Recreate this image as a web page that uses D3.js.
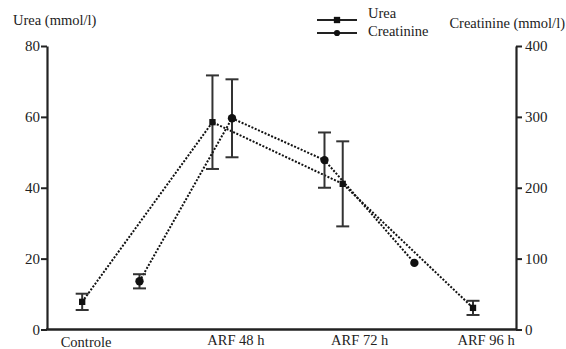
<meta charset="utf-8">
<html>
<script src="https://cdnjs.cloudflare.com/ajax/libs/d3/7.8.5/d3.min.js"></script>
<style>
body { margin: 0; background: #fff; }
</style>
<body>
<svg id="chart" width="566" height="349"></svg>
<script type="text/javascript">

// category labels and where they sit along the x axis (in slot units)
var categories = ["Controle", "ARF 48 h", "ARF 72 h", "ARF 96 h"];
var categoryPos = [0.03, 1.18, 2.13, 3.10];

// urea (left axis)
var ureaX = [0, 1, 2, 3];
var ureaMean = [7.8, 58.5, 41.1, 6.1];
var ureaSD = [2.3, 13.2, 12.0, 2.0];

// creatinine (right axis) - points are offset in the original figure
var creatX = [0.44, 1.15, 1.86, 2.55];
var creatMean = [68, 298, 239, 94];
var creatSD = [10, 55, 39, 0];

var ureaTicks = [0, 20, 40, 60, 80];
var creatTicks = [0, 100, 200, 300, 400];

var FONT = "'Liberation Serif', 'Times New Roman', serif";

var svg = d3.select("#chart");

var x = d3.scaleLinear().domain([-0.27, 3.33]).range([47, 516]);
var yL = d3.scaleLinear().domain([0, 80]).range([329.5, 46]);
var yR = d3.scaleLinear().domain([0, 400]).range([329.5, 46]);

function txt(sel, size) {
	return sel.style("font-family", FONT).style("font-size", size + "px").attr("fill", "#222");
}

// axes
var leftAxis = d3.axisLeft(yL).tickValues(ureaTicks).tickSize(6).tickPadding(1).tickSizeOuter(0);
var rightAxis = d3.axisRight(yR).tickValues(creatTicks).tickSize(6).tickPadding(3).tickSizeOuter(0);

var gl = svg.append("g").attr("transform", "translate(47,0)").call(leftAxis);
var gr = svg.append("g").attr("transform", "translate(516,0)").call(rightAxis);
[gl, gr].forEach(function(g) {
	g.select(".domain").attr("stroke", "#222").attr("stroke-width", 2.2);
	g.selectAll(".tick line").attr("stroke", "#222").attr("stroke-width", 2);
	txt(g.selectAll(".tick text"), 15);
});

// bottom line
svg.append("line")
	.attr("x1", x.range()[0] - 1).attr("x2", x.range()[1] + 1)
	.attr("y1", yL(0)).attr("y2", yL(0))
	.attr("stroke", "#222").attr("stroke-width", 2.4);

txt(svg.selectAll("text.cat")
	.data(categories)
	.enter()
	.append("text")
	.attr("class", "cat")
	.attr("x", function(d, i) { return x(categoryPos[i]); })
	.attr("y", function(d, i) { return i === 0 ? 347 : 344.5; })
	.attr("text-anchor", "middle"), 14.5)
	.text(function(d) { return d; });

// axis titles
txt(svg.append("text").attr("x", 13).attr("y", 24.5), 14.5).text("Urea (mmol/l)");
txt(svg.append("text").attr("x", 565).attr("y", 28).attr("text-anchor", "end"), 14.5).text("Creatinine (mmol/l)");

// series
var urea = ureaX.map(function(v, i) { return {x: v, m: ureaMean[i], sd: ureaSD[i]}; });
var creat = creatX.map(function(v, i) { return {x: v, m: creatMean[i], sd: creatSD[i]}; });

function drawSeries(data, y, marker) {
	var line = d3.line()
		.x(function(d) { return x(d.x); })
		.y(function(d) { return y(d.m); });

	svg.append("path")
		.datum(data)
		.attr("d", line)
		.attr("fill", "none")
		.attr("stroke", "#111")
		.attr("stroke-width", 2)
		.attr("stroke-dasharray", "2,1.6");

	var eb = svg.append("g").selectAll("g")
		.data(data.filter(function(d) { return d.sd > 0; }))
		.enter().append("g")
		.attr("stroke", "#333")
		.attr("stroke-width", 2);
	eb.append("line")
		.attr("x1", function(d) { return x(d.x); }).attr("x2", function(d) { return x(d.x); })
		.attr("y1", function(d) { return y(d.m + d.sd); }).attr("y2", function(d) { return y(d.m - d.sd); });
	eb.append("line")
		.attr("x1", function(d) { return x(d.x) - 6.5; }).attr("x2", function(d) { return x(d.x) + 6.5; })
		.attr("y1", function(d) { return y(d.m + d.sd); }).attr("y2", function(d) { return y(d.m + d.sd); });
	eb.append("line")
		.attr("x1", function(d) { return x(d.x) - 6.5; }).attr("x2", function(d) { return x(d.x) + 6.5; })
		.attr("y1", function(d) { return y(d.m - d.sd); }).attr("y2", function(d) { return y(d.m - d.sd); });

	svg.append("g").selectAll("path")
		.data(data)
		.enter().append("path")
		.attr("d", d3.symbol().type(marker).size(marker === d3.symbolSquare ? 40 : 55))
		.attr("transform", function(d) { return "translate(" + x(d.x) + "," + y(d.m) + ")"; })
		.attr("fill", "#111");
}

drawSeries(urea, yL, d3.symbolSquare);
drawSeries(creat, yR, d3.symbolCircle);

// legend
var legend = [
	{name: "Urea", marker: d3.symbolSquare, y: 20, ty: 18},
	{name: "Creatinine", marker: d3.symbolCircle, y: 33, ty: 36}
];
var lg = svg.append("g").selectAll("g").data(legend).enter().append("g");
lg.append("line")
	.attr("x1", 317).attr("x2", 357)
	.attr("y1", function(d) { return d.y; }).attr("y2", function(d) { return d.y; })
	.attr("stroke", "#222").attr("stroke-width", 2);
lg.append("path")
	.attr("d", function(d) { return d3.symbol().type(d.marker).size(d.marker === d3.symbolSquare ? 40 : 30)(); })
	.attr("transform", function(d) { return "translate(337," + d.y + ")"; })
	.attr("fill", "#111");
txt(lg.append("text")
	.attr("x", 368)
	.attr("y", function(d) { return d.ty; }), 14.5)
	.text(function(d) { return d.name; });

</script>
</body>
</html>
